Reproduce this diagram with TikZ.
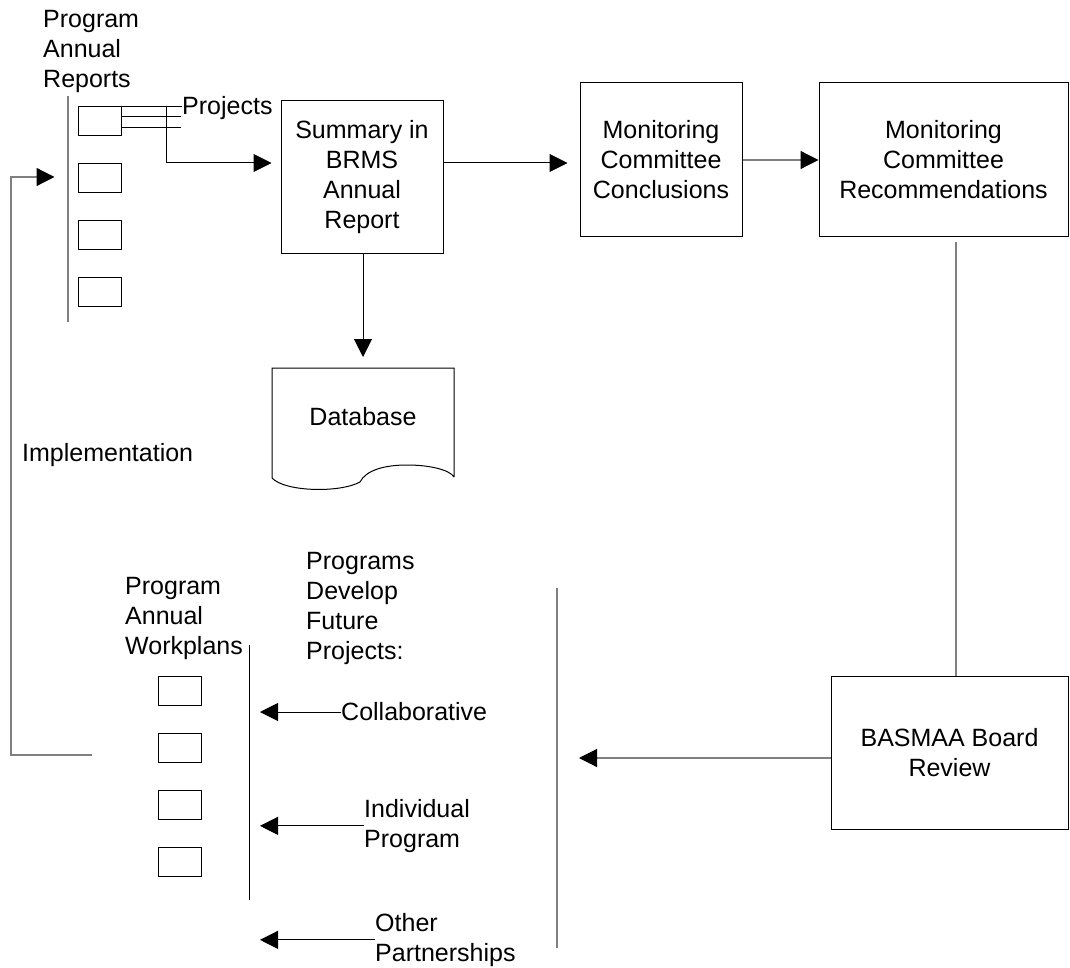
\documentclass[tikz,border=0pt]{standalone}
\usepackage{fontspec}
\setmainfont{Liberation Sans}
\usetikzlibrary{arrows.meta,calc}
\definecolor{lgray}{HTML}{808080}
\begin{document}
\begin{tikzpicture}[x=1pt,y=-1pt,
  every node/.style={font=\fontsize{25}{30}\selectfont, inner sep=0pt},
  box/.style={draw, line width=1pt, align=center},
  sbox/.style={draw, line width=1pt, minimum width=43pt, minimum height=29pt},
  lbl/.style={align=left, anchor=north west},
  ln/.style={line width=1pt},
  gln/.style={line width=1.2pt, draw=lgray},
  arr/.style={line width=1pt, -{Triangle[length=18pt,width=18pt]}},
  garr/.style={line width=1.2pt, draw=lgray, -{Triangle[length=18pt,width=18pt,color=black]}}
]
\useasboundingbox (0,0) rectangle (1070,968);

% top row boxes
\node[box, minimum width=162pt, minimum height=153pt] (summary) at (362,177.5) {Summary in\\BRMS\\Annual\\Report};
\node[box, minimum width=162pt, minimum height=154pt] (concl) at (661,160) {Monitoring\\Committee\\Conclusions};
\node[box, minimum width=249pt, minimum height=154pt] (recom) at (943.5,160) {Monitoring\\Committee\\Recommendations};
\node[box, minimum width=237pt, minimum height=153pt] (basmaa) at (949.5,752.5) {BASMAA Board\\Review};

% program annual reports
\node[lbl] (par) at (43,10) {Program\\Annual\\Reports};
\node[sbox] (rb1) at (100,121.5) {};
\node[sbox] (rb2) at (100,178) {};
\node[sbox] (rb3) at (100,235) {};
\node[sbox] (rb4) at (100,291.5) {};
\coordinate (v1a) at (68,96);
\coordinate (v1b) at (68,322);
\draw[gln] (v1a) -- (v1b);
\node[lbl] (proj) at (182,96) {Projects};

% projects connectors
\draw[ln] (rb1.north east) -- (proj.west |- rb1.north east);
\draw[ln] ([yshift=4.5pt]rb1.east) -- ++(59,0);
\draw[ln] ([yshift=-6.5pt]rb1.east) -- ++(59,0);
\coordinate (pj) at ($(rb1.north east)+(44,0)$);
\draw[arr] (pj) |- ($(summary.west)+(-9,-14.5)$);

% flow along the top
\draw[arr] ($(summary.east)+(0,-14.5)$) -- ($(concl.west)+(-12,3)$);
\draw[garr] (concl.east) -- (recom.west);

% database
\node (db) at (363,417) {Database};
\coordinate (dbtop) at (363,368);
\draw[ln] (454,477) -- (454,368) -- (272,368) -- (272,478)
  .. controls (285,492) and (340,493) .. (360,482)
  .. controls (366,470) and (385,465) .. (407,465)
  .. controls (430,465) and (450,470) .. (454,477);
\draw[arr, shorten >=11pt] ($(summary.south)+(1,0)$) -- (dbtop);

% recommendations to board
\coordinate (rv) at ($(recom.south)+(12.5,5)$);
\draw[gln] (rv) -- (rv |- basmaa.north);
\coordinate (v2a) at (557,588);
\coordinate (v2b) at (557,948);
\draw[gln] (v2a) -- (v2b);
\draw[garr] ($(basmaa.west)+(0,5.5)$) -- ($(v2a |- basmaa.west)+(22,5.5)$);

% implementation loop
\node[lbl] (impl) at (22,443) {Implementation};
\coordinate (fb0) at (92,755);
\draw[garr] (fb0) -- (11,755) |- ($(rb2.west)+(-23.5,-1)$);

% workplans
\node[lbl] (paw) at (125,577) {Program\\Annual\\Workplans};
\node[sbox] (wb1) at (180,690.5) {};
\node[sbox] (wb2) at (180,747.5) {};
\node[sbox] (wb3) at (180,804.5) {};
\node[sbox] (wb4) at (180,861.5) {};
\coordinate (v3a) at (249,645);
\coordinate (v3b) at (249,900);
\draw[ln] (v3a) -- (v3b);

% future projects
\node[lbl] (pdf) at (306,552) {Programs\\Develop\\Future\\Projects:};
\node[lbl, anchor=west] (collab) at (341,712) {Collaborative};
\node[lbl] (indiv) at (364,799) {Individual\\Program};
\node[lbl] (other) at (375,913) {Other\\Partnerships};
\draw[arr] (collab.west) -- ($(v3a |- collab.west)+(11,0)$);
\draw[arr] (indiv.west) -- ($(v3a |- indiv.west)+(11,0)$);
\draw[arr] (other.west) -- ($(v3a |- other.west)+(11,0)$);
\end{tikzpicture}
\end{document}
